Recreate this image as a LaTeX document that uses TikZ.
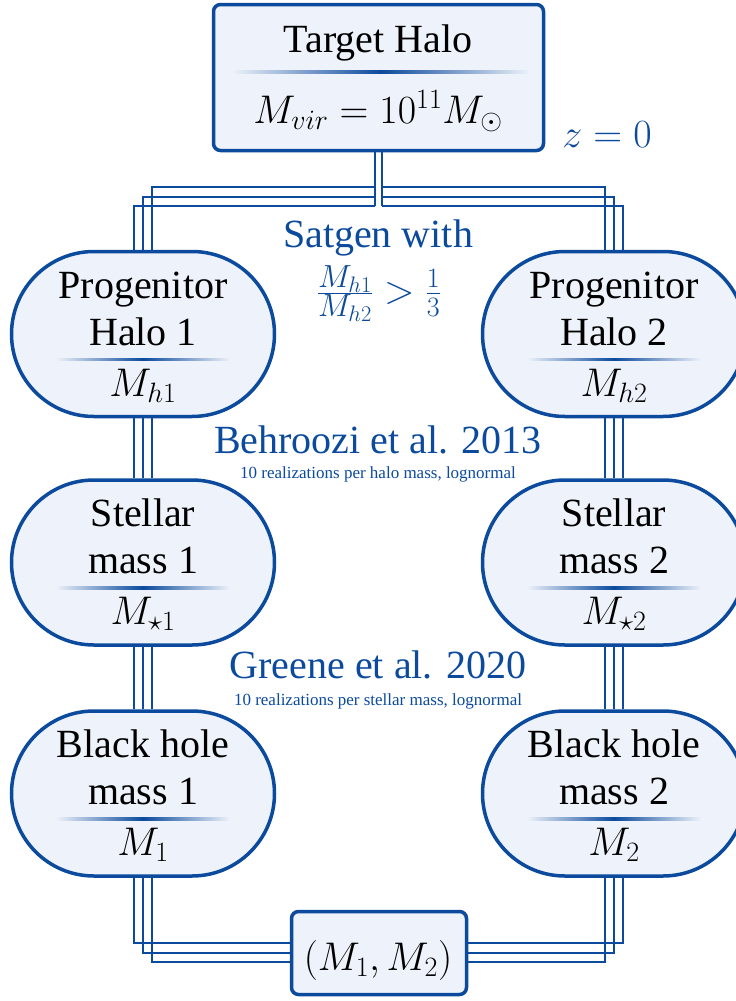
\RequirePackage{fix-cm}
\documentclass[tikz,border=0pt]{standalone}
\usepackage{fontspec}
\setmainfont{Liberation Serif}
\usetikzlibrary{shapes.misc}
\definecolor{bl}{HTML}{0B4A9C}
\definecolor{fl}{HTML}{EEF2FA}
\pgfdeclarelayer{bg}
\pgfsetlayers{bg,main}
\newcommand\sepline[3]{% node, yshift, half width
  \shade[left color=fl, right color=fl, middle color=bl]
    ([xshift=-#3, yshift=#2+1.3pt]#1.center) rectangle ([xshift=#3, yshift=#2-1.3pt]#1.center);}
\newcommand\pilltext[4]{%
  \node[big] (#1-a) at ([yshift=36pt]#1.center) {#2};
  \node[big] (#1-b) at ([yshift=-11pt]#1.center) {#3};
  \sepline{#1}{-25.5pt}{87pt}
  \node[big] (#1-m) at ([yshift=-62pt]#1.center) {$#4$};}
\newcommand\midmath[1]{\mbox{\fontsize{32}{36}\selectfont$#1$}}
\begin{document}
\begin{tikzpicture}[x=1pt, y=-1pt,
  pill/.style={rounded rectangle, draw=bl, fill=fl, line width=3.5pt,
    minimum width=263pt, minimum height=165pt, inner sep=0pt},
  rbox/.style={rectangle, rounded corners=7pt, draw=bl, fill=fl, line width=3.5pt, inner sep=0pt},
  conn/.style={draw=bl, line width=2.6pt},
  big/.style={font=\fontsize{40}{48}\selectfont, anchor=base, inner sep=0pt, text=black},
  blabel/.style={font=\fontsize{40}{48}\selectfont, anchor=base, inner sep=0pt, text=bl},
  small/.style={font=\fontsize{17}{20}\selectfont, anchor=base, inner sep=0pt, text=bl}]
\path[use as bounding box] (0,0) rectangle (736,1001);
\clip (0,0) rectangle (736,1001);

% boxes
\node[rbox, minimum width=330pt, minimum height=146pt] (T) at (378.5,77.5) {};
\node[pill] (p1) at (143,334) {};
\node[pill] (p2) at (614,334) {};
\node[pill] (s1) at (143,562.5) {};
\node[pill] (s2) at (614,562.5) {};
\node[pill] (b1) at (143,793.5) {};
\node[pill] (b2) at (614,793.5) {};
\node[rbox, minimum width=175pt, minimum height=83pt] (R) at (379,953) {};

% texts in target box
\node[big] (t-a) at (378,52) {Target Halo};
\node[big] (t-m) at (378,123) {$M_{vir} = 10^{11} M_{\odot}$};
\shade[left color=fl, right color=fl, middle color=bl] (232,70.7) rectangle (530,73.3);
\node[blabel] (z) at (607,147) {$z = 0$};

\pilltext{p1}{Progenitor}{Halo 1}{M_{h1}}
\pilltext{p2}{Progenitor}{Halo 2}{M_{h2}}
\pilltext{s1}{Stellar}{mass 1}{M_{\star 1}}
\pilltext{s2}{Stellar}{mass 2}{M_{\star 2}}
\pilltext{b1}{Black hole}{mass 1}{M_{1}}
\pilltext{b2}{Black hole}{mass 2}{M_{2}}
\node[big] (r-m) at (378,970) {$(M_1, M_2)$};

% labels
\node[blabel] (sat) at (378,247) {Satgen with};
\node[blabel] (frac) at (379,303) {$\frac{\midmath{M_{h1}}}{\midmath{M_{h2}}} > \frac{1}{3}$};
\node[blabel] (beh) at (378,453) {Behroozi et al. 2013};
\node[small] (beh2) at (378,478) {10 realizations per halo mass, lognormal};
\node[blabel] (gre) at (378,678) {Greene et al. 2020};
\node[small] (gre2) at (378,705) {10 realizations per stellar mass, lognormal};

% connectors
\begin{pgfonlayer}{bg}
\coordinate (h1) at (375,187);
\coordinate (h2) at (375,197);
\coordinate (h3) at (375,206);
\coordinate (g1) at (382,187);
\coordinate (g2) at (382,197);
\coordinate (g3) at (382,206);
\draw[conn] ([xshift=-3.5pt]T.south) -- (h3);
\draw[conn] ([xshift=3.5pt]T.south) -- (g3);
\draw[conn] (h1) -| ([xshift=9pt]p1.north);
\draw[conn] (h2) -| (p1.north);
\draw[conn] (h3) -| ([xshift=-9pt]p1.north);
\draw[conn] (g1) -| ([xshift=-9pt]p2.north);
\draw[conn] (g2) -| (p2.north);
\draw[conn] (g3) -| ([xshift=9pt]p2.north);
\foreach \k in {-9pt,0pt,9pt}{
  \draw[conn] ([xshift=\k]p1.south) -- ([xshift=\k]s1.north);
  \draw[conn] ([xshift=\k]s1.south) -- ([xshift=\k]b1.north);
  \draw[conn] ([xshift=\k]p2.south) -- ([xshift=\k]s2.north);
  \draw[conn] ([xshift=\k]s2.south) -- ([xshift=\k]b2.north);
}
\draw[conn] ([xshift=-9pt]b1.south) |- ([yshift=10pt]R.west);
\draw[conn] (b1.south) |- (R.west);
\draw[conn] ([xshift=9pt]b1.south) |- ([yshift=-9pt]R.west);
\draw[conn] ([xshift=9pt]b2.south) |- ([yshift=10pt]R.east);
\draw[conn] (b2.south) |- (R.east);
\draw[conn] ([xshift=-9pt]b2.south) |- ([yshift=-9pt]R.east);
\end{pgfonlayer}
\end{tikzpicture}
\end{document}
